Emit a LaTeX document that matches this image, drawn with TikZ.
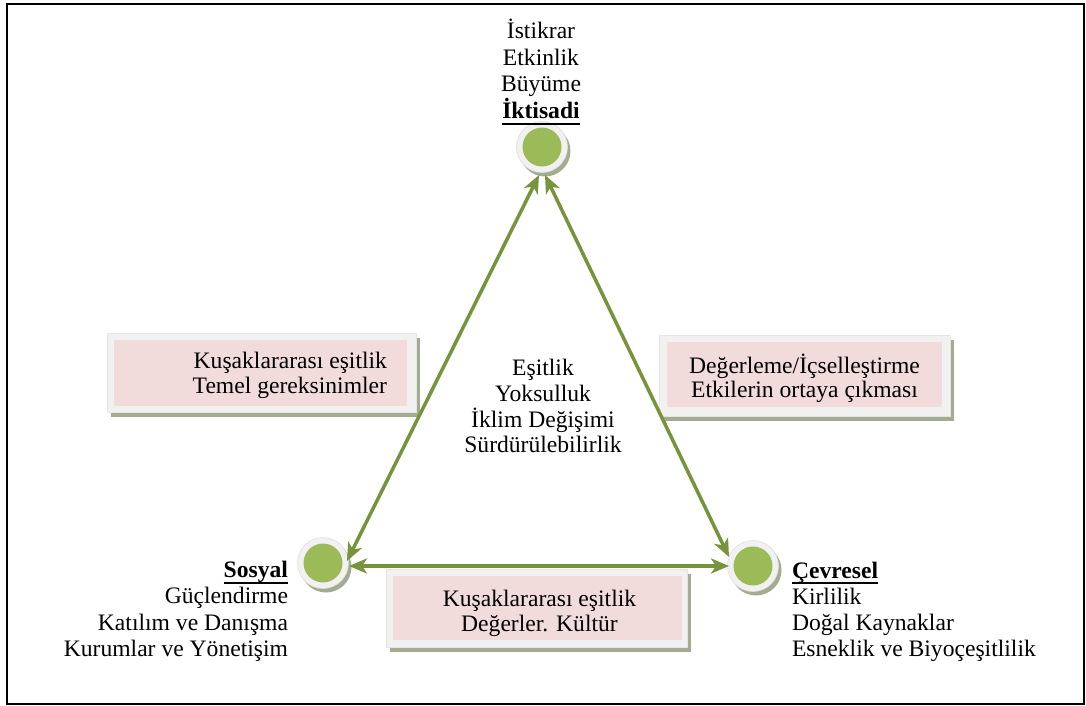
\documentclass[tikz,border=0pt]{standalone}
\usepackage{fontspec}
\setmainfont{Liberation Serif}
\usetikzlibrary{arrows.meta}
\definecolor{ballgreen}{HTML}{9BBB59}
\definecolor{linegreen}{HTML}{77933C}
\definecolor{boxpink}{HTML}{F2DCDB}
\definecolor{framegray}{HTML}{F1F1F1}
\definecolor{shadegray}{HTML}{A3AC8F}
\begin{document}
\begin{tikzpicture}[x=1pt,y=-1pt,
  every node/.style={inner sep=0pt, outer sep=0pt, font=\fontsize{23.6}{26}\selectfont},
  ballshadow/.style={circle, fill=shadegray, minimum size=51pt},
  ring/.style={circle, fill=framegray, draw=gray!25, line width=0.6pt, minimum size=51pt},
  ball/.style={circle, fill=ballgreen, minimum size=39pt},
  boxshadow/.style={fill=shadegray},
  boxframe/.style={fill=framegray, draw=gray!20, line width=0.6pt},
  boxfill/.style={fill=boxpink},
  conn/.style={draw=linegreen, line width=3.5pt,
    {Stealth[length=18pt,width=15pt,inset=5pt]}-{Stealth[length=18pt,width=15pt,inset=5pt]}},
  ulinestyle/.style={line width=1.6pt},
]
\useasboundingbox (0,0) rectangle (1086,706);
\draw[line width=2pt] (7,4) rectangle (1084,704);

% ---- boxes
\node[boxshadow, minimum width=309pt, minimum height=79pt] (lshadow) at (265.5,377.5) {};
\node[boxframe, minimum width=309pt, minimum height=79pt] (lframe) at (261.5,372.5) {};
\node[boxfill, minimum width=293pt, minimum height=66pt] (lpink) at (260.5,373) {};

\node[boxshadow, minimum width=291pt, minimum height=81pt] (rshadow) at (808.5,380.5) {};
\node[boxframe, minimum width=291pt, minimum height=81pt] (rframe) at (804.5,375.5) {};
\node[boxfill, minimum width=275pt, minimum height=65pt] (rpink) at (804.5,374.5) {};

\node[boxshadow, minimum width=301pt, minimum height=78pt] (bshadow) at (540.5,613) {};
\node[boxframe, minimum width=301pt, minimum height=78pt] (bframe) at (536.5,608) {};
\node[boxfill, minimum width=289pt, minimum height=64pt] (bpink) at (537.5,608) {};

% ---- balls
\node[ballshadow] (tshadow) at (545,151) {};
\node[ring] (tring) at (542,147) {};
\node[ball] (tball) at (542,147) {};
\node[ballshadow] (lshadowb) at (326,567) {};
\node[ring] (lring) at (323,563) {};
\node[ball] (lball) at (323,563) {};
\node[ballshadow] (rshadowb) at (756,570) {};
\node[ring] (rring) at (753,566) {};
\node[ball] (rball) at (753,566) {};

% ---- connector end points
\coordinate (tA) at (539,175);
\coordinate (tB) at (545,175);
\coordinate (lA) at (347,561);
\coordinate (lB) at (349,566);
\coordinate (rA) at (729,557);
\coordinate (rB) at (729,566);
\draw[conn] (tA) -- (lA);
\draw[conn] (tB) -- (rA);
\draw[conn] (lB) -- (rB);

% ---- top texts
\node[anchor=base] (t1) at (541,39) {İstikrar};
\node[anchor=base] (t2) at (541,66) {Etkinlik};
\node[anchor=base] (t3) at (541,92) {Büyüme};
\node[anchor=base] (t4) at (541,118) {\textbf{İktisadi}};
\draw[ulinestyle] ([yshift=-6pt]t4.base west) -- ([yshift=-6pt]t4.base east);

% ---- centre texts
\node[anchor=base] (c1) at (543,375) {Eşitlik};
\node[anchor=base] (c2) at (543,401) {Yoksulluk};
\node[anchor=base] (c3) at (543,427) {İklim Değişimi};
\node[anchor=base] (c4) at (543,452) {Sürdürülebilirlik};

% ---- box texts
\node[anchor=base east] (l1) at (387,368) {Kuşaklararası eşitlik};
\node[anchor=base east] (l2) at (387,393) {Temel gereksinimler};
\node[anchor=base] (r1) at (804.5,373) {Değerleme/İçselleştirme};
\node[anchor=base] (r2) at (804.5,397) {Etkilerin ortaya çıkması};
\node[anchor=base] (b1) at (539.5,606) {Kuşaklararası eşitlik};
\node[anchor=base] (b2) at (539.5,631) {Değerler. Kültür};

% ---- sosyal
\node[anchor=base east] (s1) at (288,577) {\textbf{Sosyal}};
\draw[ulinestyle] ([yshift=-6pt]s1.base west) -- ([yshift=-6pt]s1.base east);
\node[anchor=base east] (s2) at (288,603) {Güçlendirme};
\node[anchor=base east] (s3) at (288,630) {Katılım ve Danışma};
\node[anchor=base east] (s4) at (288,656) {Kurumlar ve Yönetişim};

% ---- cevresel
\node[anchor=base west] (e1) at (792,578) {\textbf{Çevresel}};
\draw[ulinestyle] ([yshift=-5pt]e1.base west) -- ([yshift=-5pt]e1.base east);
\node[anchor=base west] (e2) at (792,604) {Kirlilik};
\node[anchor=base west] (e3) at (792,630) {Doğal Kaynaklar};
\node[anchor=base west] (e4) at (792,656) {Esneklik ve Biyoçeşitlilik};
\end{tikzpicture}
\end{document}
